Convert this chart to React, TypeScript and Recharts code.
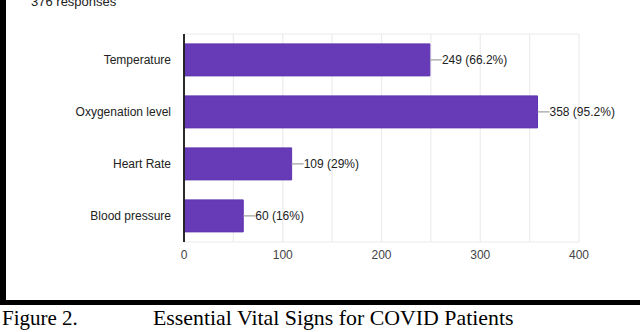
import React from 'react';
import { BarChart, Bar, XAxis, YAxis, CartesianGrid, ReferenceLine, LabelList } from 'recharts';

const categories = ['Temperature', 'Oxygenation level', 'Heart Rate', 'Blood pressure'];
const counts = [249, 358, 109, 60];
const percentLabels = ['66.2%', '95.2%', '29%', '16%'];
const xTicks = [0, 50, 100, 150, 200, 250, 300, 350, 400];
const labelledTicks = [0, 100, 200, 300, 400];
const totalResponses = 376;

const data = categories.map((name, i) => ({ name, value: counts[i], pct: percentLabels[i] }));

const XTick = (props: any) => {
  const { x, y, payload } = props;
  if (!labelledTicks.includes(payload.value)) return null;
  return (
    <text x={x} y={y} dy="0.71em" textAnchor="middle" fontSize={12} fill="#444" fontFamily="'Liberation Sans', Arial, sans-serif">
      {payload.value}
    </text>
  );
};

const ValueLabel = (props: any) => {
  const { x, y, width, height, index } = props;
  const xe = Number(x) + Number(width);
  const cy = Number(y) + Number(height) / 2;
  const d = data[index];
  return (
    <g>
      <line x1={xe} x2={xe + 12} y1={cy} y2={cy} stroke="#9e9e9e" strokeWidth={1.2} />
      <text x={xe + 12} y={cy} dy="0.35em" fontSize={12} fill="#222" fontFamily="'Liberation Sans', Arial, sans-serif">
        {`${d.value} (${d.pct})`}
      </text>
    </g>
  );
};

export default function App() {
  return (
    <div style={{ position: 'absolute', left: 0, top: 0, width: 640, height: 332, background: '#fff', overflow: 'hidden' }}>
      <div style={{ position: 'absolute', left: 31, top: -5, fontSize: 13, lineHeight: '13px', color: '#222', fontFamily: "'Liberation Sans', Arial, sans-serif" }}>
        {totalResponses} responses
      </div>
      <div style={{ position: 'absolute', left: 0, top: 0 }}>
        <BarChart
          width={640}
          height={300}
          layout="vertical"
          data={data}
          margin={{ top: 34, right: 61, left: 0, bottom: 28 }}
          barCategoryGap="19%"
        >
          <CartesianGrid
            stroke="#ececec"
            strokeWidth={1.2}
            horizontalCoordinatesGenerator={({ offset }: any) => [offset.top, offset.top + offset.height]}
          />
          <XAxis
            type="number"
            domain={[0, 400]}
            ticks={xTicks}
            interval={0}
            axisLine={false}
            tickLine={false}
            tickSize={0}
            tickMargin={8}
            height={30}
            tick={<XTick />}
          />
          <YAxis
            type="category"
            dataKey="name"
            width={184}
            axisLine={{ stroke: '#222', strokeWidth: 1.6 }}
            tickLine={false}
            tickSize={0}
            tickMargin={13}
            tick={{ fontSize: 12, fill: '#222', fontFamily: "'Liberation Sans', Arial, sans-serif" }}
          />
          <Bar dataKey="value" fill="#673ab7" stroke="#5e35b1" strokeWidth={1} isAnimationActive={false}>
            <LabelList dataKey="value" content={<ValueLabel />} />
          </Bar>
          <ReferenceLine x={0} stroke="#222" strokeWidth={1.6} />
        </BarChart>
      </div>
      <div style={{ position: 'absolute', left: 0, top: 0, width: 6, height: 305, background: '#000' }} />
      <div style={{ position: 'absolute', left: 0, top: 300, width: 640, height: 5, background: '#000' }} />
      <div style={{ position: 'absolute', left: 2, top: 308, fontSize: 21, lineHeight: '21px', color: '#000', fontFamily: "'Liberation Serif', 'Times New Roman', serif", whiteSpace: 'nowrap' }}>
        Figure 2.
      </div>
      <div style={{ position: 'absolute', left: 153, top: 308, fontSize: 21, lineHeight: '21px', color: '#000', fontFamily: "'Liberation Serif', 'Times New Roman', serif", whiteSpace: 'nowrap', transform: 'scaleX(1.04)', transformOrigin: 'left top' }}>
        Essential Vital Signs for COVID Patients
      </div>
    </div>
  );
}
